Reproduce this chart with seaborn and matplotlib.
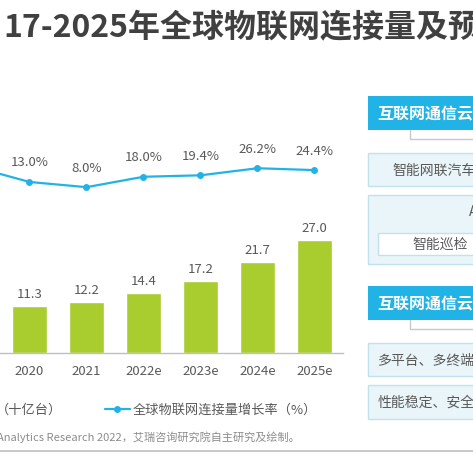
import numpy as np
import matplotlib
matplotlib.use("Agg")
import matplotlib.pyplot as plt
import matplotlib.patches as mpatches
from matplotlib.lines import Line2D
from matplotlib.transforms import IdentityTransform
import seaborn as sns

# data (2019 sits just off the left edge of the crop)
years = ["2019", "2020", "2021", "2022e", "2023e", "2024e", "2025e"]
connections = [10.0, 11.3, 12.2, 14.4, 17.2, 21.7, 27.0]   # 十亿台
growth = [28.0, 13.0, 8.0, 18.0, 19.4, 26.2, 24.4]         # %

title = "17-2025年全球物联网连接量及预测"
legend_bar = "（十亿台）"
legend_line = "全球物联网连接量增长率（%）"
source = "Analytics Research 2022，艾瑞咨询研究院自主研究及绘制。"
panel_header = "互联网通信云"
panel_items_top = ["智能网联汽车", "智能巡检"]
panel_items_bottom = ["多平台、多终端", "性能稳定、安全"]

W, H = 473, 477
BAR = "#A9CD2E"
LINE = "#22B3E6"
TXT = "#595959"
BOX_FILL = "#EAF5F9"
BOX_EDGE = "#BFE2EC"

sns.set_theme(style="white")
plt.rcParams["font.family"] = ["Noto Sans CJK SC", "DejaVu Sans"]

fig = plt.figure(figsize=(W / 100, H / 100), dpi=100)
fig.patch.set_facecolor("white")

# chart area: baseline at y=354px, categories 57px apart
ax = fig.add_axes([0, (H - 354) / H, 343 / W, (354 - 140) / H])
sns.barplot(x=years, y=connections, color=BAR, width=0.61, saturation=1, ax=ax)
# first category is outside the crop, so no label for it
bar_txt = [""] + [f"{v:.1f}" for v in connections[1:]]
ax.bar_label(ax.containers[0], labels=bar_txt, padding=4, fontsize=9.5, color=TXT)

ax2 = ax.twinx()
xs = np.arange(len(years))
sns.lineplot(x=xs, y=growth, color=LINE, marker="o", markersize=5,
             markeredgewidth=0, linewidth=1.6, ax=ax2)
for x, v in zip(xs[1:], growth[1:]):
    ax2.annotate(f"{v:.1f}%", (x, v), xytext=(0, 20), textcoords="offset pixels",
                 ha="center", va="center", fontsize=9.5, color=TXT)

# ticks first: set_xticks widens the view limits
ax.set_xticks(xs)
ax.set_xticklabels([""] + years[1:])
ax.set_xlim(0.4825, 6.5)
ax2.set_xlim(0.4825, 6.5)
ax.set_ylim(0, 214 / 4.2)
ax2.set_ylim(-151.4, 54.3)
ax.tick_params(axis="x", length=0, pad=8, labelsize=9.5, labelcolor=TXT)
ax.set_yticks([])
ax2.set_yticks([])
ax.set_xlabel("")
ax.set_ylabel("")
ax2.set_ylabel("")
for s in ["top", "left", "right"]:
    ax.spines[s].set_visible(False)
ax.spines["bottom"].set_color("#BFBFBF")
ax.spines["bottom"].set_linewidth(1)
for s in ax2.spines.values():
    s.set_visible(False)
ax.patch.set_alpha(0)
ax2.patch.set_alpha(0)


def px_rect(x, y, w, h, **kw):
    r = mpatches.Rectangle((x, H - y - h), w, h, transform=IdentityTransform(), **kw)
    fig.add_artist(r)


def px_line(xs_, ys_, **kw):
    fig.add_artist(Line2D(xs_, [H - y for y in ys_], transform=IdentityTransform(), **kw))


def px_text(x, y, s, **kw):
    fig.text(x / W, 1 - y / H, s, **kw)


# title
px_text(3, 28, title, fontsize=23, fontweight="bold", color="#404040", va="center")

# legend
px_text(-4, 410, legend_bar, fontsize=9.5, color=TXT, va="center")
px_line([105, 130], [410, 410], color=LINE, linewidth=1.6)
px_line([117], [410], color=LINE, marker="o", markersize=5, markeredgewidth=0)
px_text(133, 410, legend_line, fontsize=9.5, color=TXT, va="center")

# source + separator
px_text(-3, 437, source, fontsize=8, color="#8C8C8C", va="center")
px_line([0, W], [452, 452], color="#BFBFBF", linewidth=1.2)

# right panel, upper block
px_rect(368, 97, 120, 34, facecolor=LINE, edgecolor="none")
px_text(377, 114, panel_header, fontsize=11.5, fontweight="bold", color="white", va="center")
px_line([410, 410, W], [131, 140, 140], color="#C8C8C8", linewidth=1)
px_rect(368, 154, 120, 33, facecolor=BOX_FILL, edgecolor=BOX_EDGE, linewidth=1)
px_text(392, 171, panel_items_top[0], fontsize=10, color=TXT, va="center")
px_rect(368, 196, 120, 69, facecolor=BOX_FILL, edgecolor=BOX_EDGE, linewidth=1)
px_text(469, 212, "A", fontsize=10, color=TXT, va="center")
px_rect(378, 234, 120, 22, facecolor="white", edgecolor=BOX_EDGE, linewidth=1)
px_text(412, 245, panel_items_top[1], fontsize=10, color=TXT, va="center")

# right panel, lower block
px_rect(368, 287, 120, 34, facecolor=LINE, edgecolor="none")
px_text(377, 304, panel_header, fontsize=11.5, fontweight="bold", color="white", va="center")
px_line([410, 410, W], [321, 330, 330], color="#C8C8C8", linewidth=1)
px_rect(368, 344, 120, 33, facecolor=BOX_FILL, edgecolor=BOX_EDGE, linewidth=1)
px_text(378, 361, panel_items_bottom[0], fontsize=10, color=TXT, va="center")
px_rect(368, 386, 120, 34, facecolor=BOX_FILL, edgecolor=BOX_EDGE, linewidth=1)
px_text(378, 403, panel_items_bottom[1], fontsize=10, color=TXT, va="center")

fig.savefig("out.png", dpi=100)
